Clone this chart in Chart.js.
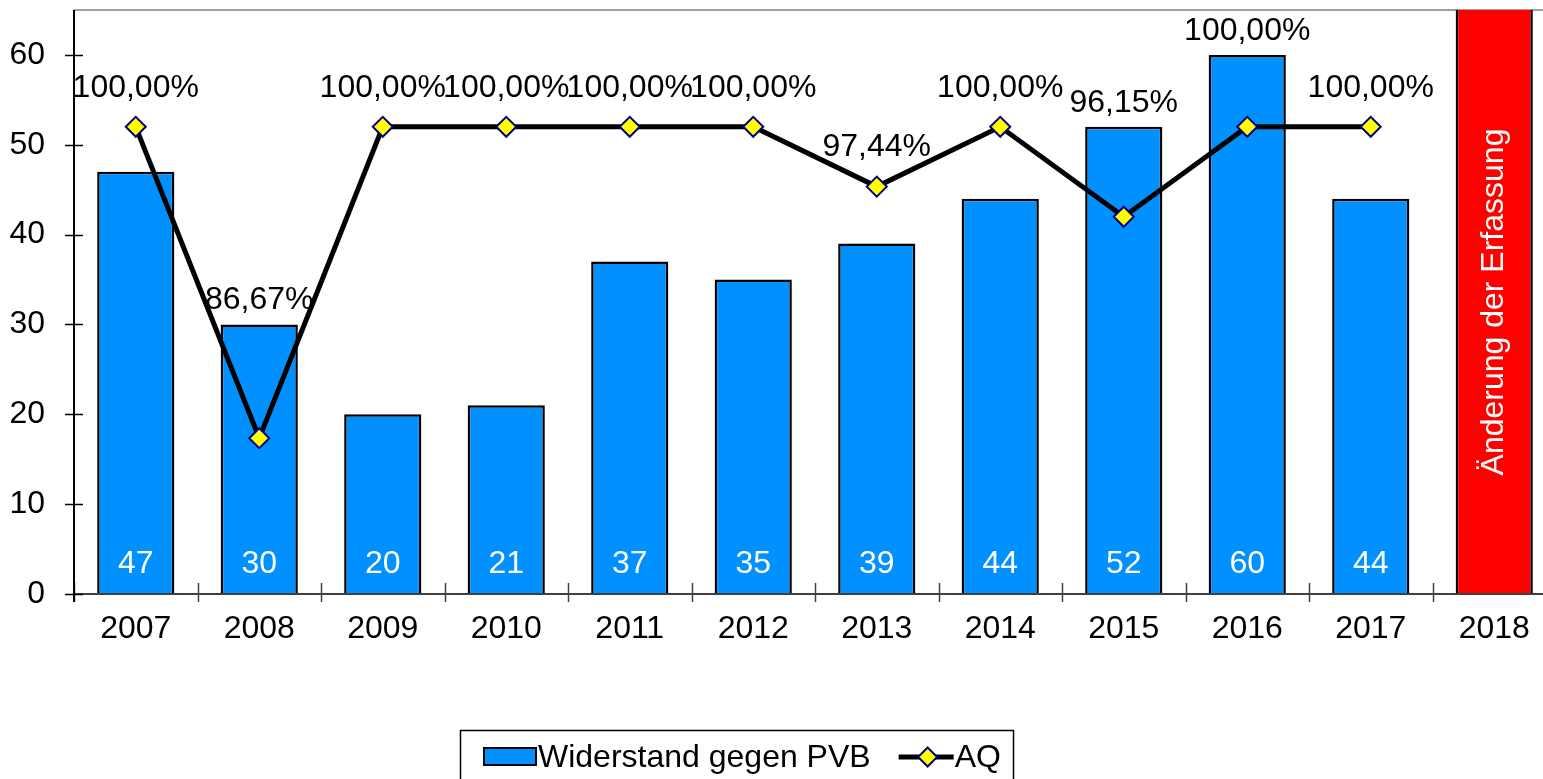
<!DOCTYPE html>
<html><head><meta charset="utf-8">
<script src="https://cdn.jsdelivr.net/npm/chart.js@4"></script>
<style>
html,body{margin:0;padding:0;overflow:hidden;background:#fff}
#wrap{position:absolute;left:0;top:0;width:1560px;height:779px}
</style>
</head><body>
<div id="wrap"><canvas id="c"></canvas></div>
<script>
const categories = ['2007','2008','2009','2010','2011','2012','2013','2014','2015','2016','2017','2018'];
const pvbValues = [47,30,20,21,37,35,39,44,52,60,44,null];
const changeMarker = [null,null,null,null,null,null,null,null,null,null,null,70];
const aqValues = [100,86.67,100,100,100,100,97.44,100,96.15,100,100,null];
const aqLabels = ['100,00%','86,67%','100,00%','100,00%','100,00%','100,00%','97,44%','100,00%','96,15%','100,00%','100,00%',''];
const yTicks = [0,10,20,30,40,50,60];
const changeText = 'Änderung der Erfassung';
const seriesNames = ['Widerstand gegen PVB','AQ'];

const FONT = 'Liberation Sans, Arial, sans-serif';
const FS = 32;
const BLUE = '#0090FF';
const RED = '#FF0000';

const decor = {
  id: 'decor',
  beforeDatasetsDraw(chart) {
    const ctx = chart.ctx, a = chart.chartArea;
    ctx.save();
    ctx.strokeStyle = '#A0A0A0'; ctx.lineWidth = 2;
    ctx.beginPath(); ctx.moveTo(a.left, a.top); ctx.lineTo(chart.width, a.top); ctx.stroke();
    ctx.restore();
  },
  afterDatasetsDraw(chart) {
    const ctx = chart.ctx, a = chart.chartArea;
    const ys = chart.scales.y;
    ctx.save();
    ctx.strokeStyle = '#404040'; ctx.lineWidth = 2;
    ctx.beginPath(); ctx.moveTo(a.left, a.bottom); ctx.lineTo(chart.width, a.bottom); ctx.stroke();
    const cw = (a.right - a.left) / categories.length;
    ctx.lineWidth = 1.5;
    for (let i = 0; i <= categories.length; i++) {
      const x = Math.round(a.left + i * cw) + 0.5;
      ctx.beginPath(); ctx.moveTo(x, a.bottom - 11); ctx.lineTo(x, a.bottom + 8); ctx.stroke();
    }
    ctx.strokeStyle = '#000'; ctx.lineWidth = 2;
    ctx.beginPath(); ctx.moveTo(a.left, a.top); ctx.lineTo(a.left, a.bottom + 8); ctx.stroke();
    ctx.lineWidth = 1.5;
    yTicks.forEach(v => {
      const y = Math.round(ys.getPixelForValue(v)) + 0.5;
      ctx.beginPath(); ctx.moveTo(a.left - 9, y); ctx.lineTo(a.left + 9, y); ctx.stroke();
    });

    const barMeta = chart.getDatasetMeta(1);
    ctx.fillStyle = '#fff'; ctx.font = FS + 'px ' + FONT;
    ctx.textAlign = 'center'; ctx.textBaseline = 'middle';
    barMeta.data.forEach((el, i) => {
      if (pvbValues[i] == null) return;
      ctx.fillText(String(pvbValues[i]), el.x, el.base - 30);
    });
    const chMeta = chart.getDatasetMeta(2);
    chMeta.data.forEach((el, i) => {
      if (changeMarker[i] == null) return;
      ctx.save();
      ctx.translate(el.x, (Math.max(el.y, a.top) + el.base) / 2);
      ctx.rotate(-Math.PI / 2);
      ctx.fillStyle = '#fff'; ctx.font = FS + 'px ' + FONT;
      ctx.fillText(changeText, 0, 0);
      ctx.restore();
    });
    const lineMeta = chart.getDatasetMeta(0);
    ctx.fillStyle = '#000'; ctx.font = FS + 'px ' + FONT;
    lineMeta.data.forEach((el, i) => {
      if (aqValues[i] == null) return;
      const barTop = barMeta.data[i].y;
      const y = Math.min(el.y - 39, barTop - 24);
      ctx.fillText(aqLabels[i], el.x, y);
    });
    ctx.restore();
  },
  afterDraw(chart) {
    const ctx = chart.ctx;
    ctx.save();
    ctx.font = FS + 'px ' + FONT;
    ctx.textAlign = 'left'; ctx.textBaseline = 'middle';
    const cy = 757;
    ctx.strokeStyle = '#000'; ctx.lineWidth = 1.5;
    ctx.strokeRect(460.5, 730.5, 553, 60);
    ctx.fillStyle = BLUE; ctx.fillRect(484, 748, 52, 17);
    ctx.strokeStyle = '#000'; ctx.lineWidth = 2; ctx.strokeRect(484, 748, 52, 17);
    let x = 538;
    ctx.fillStyle = '#000';
    ctx.fillText(seriesNames[0], x, cy + 1);
    x += ctx.measureText(seriesNames[0]).width + 28;
    ctx.strokeStyle = '#000'; ctx.lineWidth = 5;
    ctx.beginPath(); ctx.moveTo(x, cy); ctx.lineTo(x + 55, cy); ctx.stroke();
    const mx = x + 29;
    ctx.beginPath();
    ctx.moveTo(mx, cy - 9.5); ctx.lineTo(mx + 9.5, cy); ctx.lineTo(mx, cy + 9.5); ctx.lineTo(mx - 9.5, cy); ctx.closePath();
    ctx.fillStyle = '#FFFF00'; ctx.fill();
    ctx.strokeStyle = '#000080'; ctx.lineWidth = 2; ctx.stroke();
    x += 56;
    ctx.fillStyle = '#000';
    ctx.fillText(seriesNames[1], x, cy + 1);
    ctx.restore();
  }
};

new Chart(document.getElementById('c'), {
  type: 'bar',
  data: {
    labels: categories,
    datasets: [
      {
        type: 'line', label: seriesNames[1], data: aqValues, yAxisID: 'y2', order: 0,
        borderColor: '#000', borderWidth: 5, tension: 0, fill: false,
        pointStyle: 'rectRot', pointRadius: 10, pointHoverRadius: 10,
        pointBackgroundColor: '#FFFF00', pointBorderColor: '#000080', pointBorderWidth: 2
      },
      {
        type: 'bar', label: seriesNames[0], data: pvbValues, yAxisID: 'y', order: 1, grouped: false,
        backgroundColor: BLUE, borderColor: '#000', borderWidth: 2.5,
        barPercentage: 0.625, categoryPercentage: 1
      },
      {
        type: 'bar', label: 'change', data: changeMarker, yAxisID: 'y', order: 2, grouped: false,
        backgroundColor: RED, borderColor: '#000', borderWidth: 2.5,
        barPercentage: 0.625, categoryPercentage: 1
      }
    ]
  },
  options: {
    responsive: true, maintainAspectRatio: false, animation: false,
    layout: { autoPadding: false, padding: { top: 10, left: 0, right: 4, bottom: 115 } },
    plugins: { legend: { display: false }, tooltip: { enabled: false } },
    scales: {
      x: {
        offset: true,
        grid: { display: false, drawTicks: false },
        border: { display: false },
        ticks: { color: '#000', font: { size: FS, family: FONT }, padding: 16, maxRotation: 0, autoSkip: false },
        afterFit(s) { s.height = 70; s.paddingLeft = 0; s.paddingRight = 0; }
      },
      y: {
        min: 0, max: 65,
        grid: { display: false, drawTicks: false },
        border: { display: false },
        ticks: { color: '#000', font: { size: FS, family: FONT }, padding: 29 },
        afterBuildTicks(s) { s.ticks = yTicks.map(v => ({ value: v })); },
        afterFit(s) { s.width = 74; s.paddingTop = 0; s.paddingBottom = 0; }
      },
      y2: { display: false, min: 80, max: 105 }
    }
  },
  plugins: [decor]
});
</script>
</body></html>
